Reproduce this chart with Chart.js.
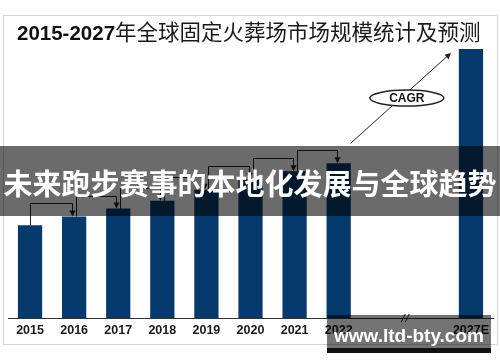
<!DOCTYPE html>
<html>
<head>
<meta charset="utf-8">
<script src="https://cdn.jsdelivr.net/npm/chart.js@4.4.1/dist/chart.umd.min.js"></script>
<style>
  html, body { margin: 0; padding: 0; background: #fff; }
  #wrap { position: relative; width: 500px; height: 362px; overflow: hidden; }
  #chart { position: absolute; left: 0; top: 0; }
  .frame { position: absolute; left: 3px; top: 15px; width: 493px; height: 328px; border: 1px solid #d4d4d4; }
  .title { position: absolute; left: 17px; top: 16px; white-space: nowrap; color: #1a1a1a;
           font-family: "Noto Sans CJK SC", sans-serif; font-size: 21.5px; line-height: 30px; }
  .title b { font-family: "Liberation Sans", Arial, sans-serif; font-size: 20.5px; font-weight: bold; color: #111; }
  .banner { position: absolute; left: 0; top: 146px; width: 500px; height: 70px; background: rgba(0,0,0,0.58);
            color: #fff; font-family: "Noto Sans CJK SC", sans-serif; font-weight: bold; font-size: 29px;
            line-height: 72px; text-align: center; white-space: nowrap; }
  .mark { position: absolute; left: 327px; top: 315px; width: 164px; height: 38px; background: rgba(0,0,0,0.55);
          color: #fff; font-family: "Liberation Sans", Arial, sans-serif; font-weight: bold; font-size: 19px;
          line-height: 42px; text-align: center; }
  .mark::after { content: ""; position: absolute; left: 0; right: 0; bottom: 0; height: 5px; background: rgba(0,0,0,0.85); }
</style>
</head>
<body>
<div id="wrap">
  <canvas id="chart" width="500" height="362"></canvas>
  <div class="frame"></div>
  <div class="title"><b>2015-2027</b>年全球固定火葬场市场规模统计及预测</div>
  <div class="banner">未来跑步赛事的本地化发展与全球趋势</div>
  <div class="mark">www.ltd-bty.com</div>
</div>
<script>
// years on the axis; the two blanks make the gap before the forecast year
const years = ['2015', '2016', '2017', '2018', '2019', '2020', '2021', '2022', '', '', '2027E'];
// market size (relative, no axis shown in the source)
const marketSize = [94, 103, 111, 119, 130, 141, 149, 157, null, null, 273];

const BAR_COLOR = '#073a6c';
const LINE_COLOR = '#222';

function arrowHead(ctx, x, y, dir) {
    // dir: angle of the arrow direction in radians
    const len = 6, half = 3;
    ctx.save();
    ctx.translate(x, y);
    ctx.rotate(dir);
    ctx.beginPath();
    ctx.moveTo(0, 0);
    ctx.lineTo(-len, -half);
    ctx.lineTo(-len, half);
    ctx.closePath();
    ctx.fill();
    ctx.restore();
}

// connector arrows between the yearly bars, the CAGR arrow and the axis break
const decorations = {
    id: 'decorations',
    afterDatasetsDraw(chart) {
        const ctx = chart.ctx;
        const xs = chart.scales.x, ys = chart.scales.y;
        ctx.save();
        ctx.strokeStyle = LINE_COLOR;
        ctx.fillStyle = LINE_COLOR;
        ctx.lineWidth = 1;

        for (let i = 0; i < 7; i++) {
            const x0 = Math.round(xs.getPixelForValue(i) + (i === 0 ? 0 : 2)) + 0.5;
            const x1 = Math.round(xs.getPixelForValue(i + 1) - 2) + 0.5;
            const top0 = ys.getPixelForValue(marketSize[i]);
            const top1 = ys.getPixelForValue(marketSize[i + 1]);
            const ly = Math.round(top1 - 13) + 0.5;
            ctx.beginPath();
            ctx.moveTo(x0, top0);
            ctx.lineTo(x0, ly);
            ctx.lineTo(x1, ly);
            ctx.lineTo(x1, top1 - 5);
            ctx.stroke();
            arrowHead(ctx, x1, top1, Math.PI / 2);
        }

        // CAGR arrow from 2022 to 2027E
        const sx = xs.getPixelForValue(7) + 12, sy = ys.getPixelForValue(marketSize[7]) - 20;
        const ex = xs.getPixelForValue(10) - 20, ey = ys.getPixelForValue(marketSize[10]) + 4;
        const ang = Math.atan2(ey - sy, ex - sx);
        ctx.beginPath();
        ctx.moveTo(sx, sy);
        ctx.lineTo(ex - Math.cos(ang) * 5, ey - Math.sin(ang) * 5);
        ctx.stroke();
        arrowHead(ctx, ex, ey, ang);

        const cx = sx + (ex - sx) * 0.56, cy = sy + (ey - sy) * 0.5;
        ctx.beginPath();
        ctx.ellipse(cx, cy, 37, 8, 0, 0, Math.PI * 2);
        ctx.fillStyle = '#fff';
        ctx.fill();
        ctx.lineWidth = 1.5;
        ctx.stroke();
        ctx.fillStyle = '#111';
        ctx.font = 'bold 12px "Liberation Sans", Arial, sans-serif';
        ctx.textAlign = 'center';
        ctx.textBaseline = 'middle';
        ctx.fillText('CAGR', cx, cy + 0.5);

        // axis break marks
        const bx = (xs.getPixelForValue(8) + xs.getPixelForValue(9)) / 2 + 0.5;
        const by = chart.chartArea.bottom;
        ctx.lineWidth = 1;
        ctx.strokeStyle = LINE_COLOR;
        [-2, 2].forEach(d => {
            ctx.beginPath();
            ctx.moveTo(bx + d - 2, by + 4);
            ctx.lineTo(bx + d + 2, by - 4);
            ctx.stroke();
        });
        ctx.restore();
    }
};

new Chart(document.getElementById('chart'), {
    type: 'bar',
    data: {
        labels: years,
        datasets: [{
            data: marketSize,
            backgroundColor: BAR_COLOR,
            borderWidth: 0,
            categoryPercentage: 1,
            barPercentage: 0.55
        }]
    },
    options: {
        responsive: false,
        animation: false,
        layout: { padding: { left: 8, right: 7, top: 42, bottom: 19 } },
        plugins: { legend: { display: false }, tooltip: { enabled: false } },
        scales: {
            x: {
                grid: { display: false, drawTicks: false },
                border: { display: true, color: '#333', width: 1 },
                ticks: {
                    padding: 5,
                    color: '#1a1a1a',
                    autoSkip: false,
                    maxRotation: 0,
                    font: { family: '"Liberation Sans", Arial, sans-serif', size: 12.5, weight: 'bold' }
                }
            },
            y: { display: false, min: 0, max: 280 }
        }
    },
    plugins: [decorations]
});
</script>
</body>
</html>
